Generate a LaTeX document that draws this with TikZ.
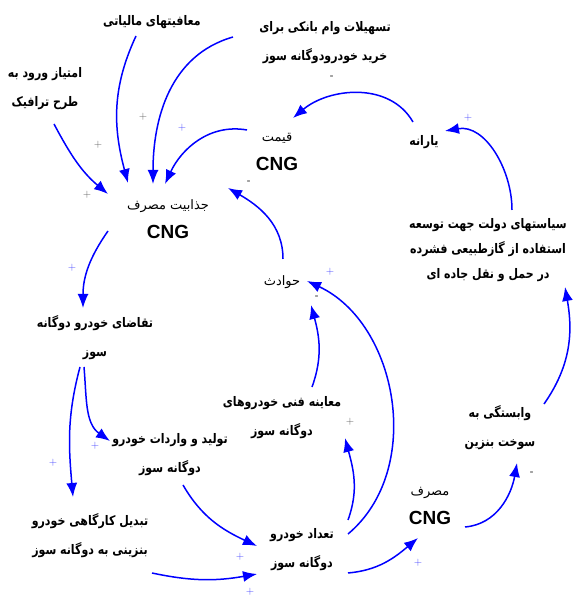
\documentclass[tikz,border=0pt]{standalone}
\usepackage{fontspec}
\usetikzlibrary{arrows.meta,calc}
\TeXXeTstate=1
\newfontfamily\farsi[Script=Arabic]{DejaVu Sans}
\newfontfamily\cngfont{Liberation Sans}
\newcommand\fat[1]{\beginR #1\endR}
\newcommand\cngtext{{\cngfont\bfseries\fontsize{19}{22}\selectfont CNG}}
\begin{document}
\begin{tikzpicture}[x=1pt,y=1pt,
  lbl/.style={font=\farsi\bfseries\fontsize{11}{24.2}\selectfont, align=center, inner sep=0pt, yscale=1.2, transform shape},
  lblr/.style={font=\farsi\fontsize{13}{29}\selectfont, align=center, inner sep=0pt},
  arr/.style={draw=blue, line width=1.5pt, -{Latex[length=14pt,width=11pt]}},
  pb/.style={text=blue!75, font=\fontsize{11}{11}\selectfont, inner sep=0pt},
  pg/.style={text=black!65, font=\fontsize{11}{11}\selectfont, inner sep=0pt},
  mn/.style={text=black!80, font=\bfseries\fontsize{9}{9}\selectfont, inner sep=0pt}]
\useasboundingbox (0,0) rectangle (579,596);
% nodes
\node[lbl] (maf) at (152,574) {\fat{معافیتهای مالیاتی}};
\node[lbl] (tas) at (325,553) {\fat{تسهیلات وام بانکی برای}\\\fat{خرید خودرودوگانه سوز}};
\node[lbl] (imt) at (45,507) {\fat{امتیاز ورود به}\\\fat{طرح ترافیک}};
\node[lblr] (qim) at (277,444) {\fat{قیمت}\\\cngtext};
\node[lbl] (yar) at (424,454) {\fat{یارانه}};
\node[lblr] (jaz) at (168,377) {\fat{جذابیت مصرف}\\\cngtext};
\node[lblr] (hav) at (282,314) {\fat{حوادث}};
\node[lbl, font=\farsi\bfseries\fontsize{11}{20.8}\selectfont] (siy) at (488,346) {\fat{سیاستهای دولت جهت توسعه}\\\fat{استفاده از گازطبیعی فشرده}\\\fat{در حمل و نقل جاده ای}};
\node[lbl] (taq) at (95,258) {\fat{تقاضای خودرو دوگانه}\\\fat{سوز}};
\node[lbl] (moa) at (282,178) {\fat{معاینه فنی خودروهای}\\\fat{دوگانه سوز}};
\node[lbl] (vab) at (500,168) {\fat{وابستگی به}\\\fat{سوخت بنزین}};
\node[lbl] (tol) at (170,141) {\fat{تولید و واردات خودرو}\\\fat{دوگانه سوز}};
\node[lbl] (tab) at (90,60) {\fat{تبدیل کارگاهی خودرو}\\\fat{بنزینی به دوگانه سوز}};
\node[lbl] (tad) at (302,46) {\fat{تعداد خودرو}\\\fat{دوگانه سوز}};
\node[lblr] (mas) at (430,90) {\fat{مصرف}\\\cngtext};
% arrows
\draw[arr] ([shift={(9,-35)}]imt.center) to[out=-62,in=140] ([shift={(-60,25)}]jaz.center);
\draw[arr] ([shift={(-16,-14)}]maf.center) to[out=-115,in=105] ([shift={(-40,36)}]jaz.center);
\draw[arr] ([shift={(-92,6)}]tas.center) to[out=196,in=90] ([shift={(-15,35)}]jaz.center);
\draw[arr] ([shift={(-30,22)}]qim.center) to[out=170,in=65] ([shift={(-3,35)}]jaz.center);
\draw[arr] ([shift={(-11,20)}]yar.center) to[out=120,in=40] ([shift={(16,34)}]qim.center);
\draw[arr] ([shift={(24,40)}]siy.center) to[out=90,in=10] ([shift={(21,11)}]yar.center);
\draw[arr] ([shift={(1,23)}]hav.center) to[out=90,in=-30] ([shift={(60,31)}]jaz.center);
\draw[arr] ([shift={(-60,-12)}]jaz.center) to[out=-125,in=90] ([shift={(-12,30)}]taq.center);
\draw[arr] ([shift={(-11,-29)}]taq.center) to[out=-85,in=145] ([shift={(-60,14)}]tol.center);
\draw[arr] ([shift={(-15,-29)}]taq.center) to[out=-105,in=95] ([shift={(-17,39)}]tab.center);
\draw[arr] ([shift={(13,-30)}]tol.center) to[out=-60,in=155] ([shift={(-45,4)}]tad.center);
\draw[arr] ([shift={(62,-37)}]tab.center) to[out=-12,in=190] ([shift={(-45,-24)}]tad.center);
\draw[arr] ([shift={(46,30)}]tad.center) to[out=70,in=-75] ([shift={(63,-20)}]moa.center);
\draw[arr] ([shift={(30,31)}]moa.center) to[out=70,in=-75] ([shift={(29,-23)}]hav.center);
\draw[arr] ([shift={(46,16)}]tad.center) to[out=40,in=-25] ([shift={(25,1)}]hav.center);
\draw[arr] ([shift={(46,-23)}]tad.center) to[out=5,in=220] ([shift={(-12,-32)}]mas.center);
\draw[arr] ([shift={(35,-21)}]mas.center) to[out=5,in=-100] ([shift={(17,-35)}]vab.center);
\draw[arr] ([shift={(44,24)}]vab.center) to[out=55,in=-80] ([shift={(77,-37)}]siy.center);
% polarities
\node[mn] (m1) at (332,519) {-};
\node[pb] (m2) at (468,478) {+};
\node[pg] (m3) at (143,479) {+};
\node[pb] (m4) at (182,468) {+};
\node[pg] (m5) at (98,451) {+};
\node[pg] (m6) at (87,401) {+};
\node[mn] (m7) at (249,414) {-};
\node[pb] (m8) at (72,328) {+};
\node[pb] (m9) at (330,324) {+};
\node[mn] (m10) at (317,299) {-};
\node[pb] (m11) at (53,133) {+};
\node[pb] (m12) at (95,150) {+};
\node[pb] (m13) at (240,39) {+};
\node[pb] (m14) at (250,4) {+};
\node[pg] (m15) at (350,174) {+};
\node[pb] (m16) at (418,33) {+};
\node[mn] (m17) at (532,123) {-};
\end{tikzpicture}
\end{document}
